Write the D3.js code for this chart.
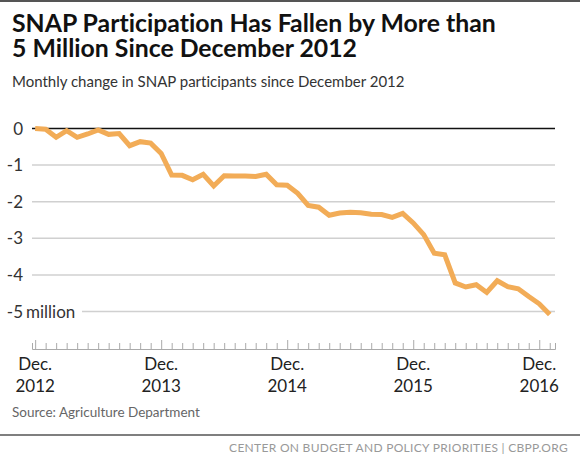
<!DOCTYPE html>
<html><head><meta charset="utf-8">
<script src="https://cdn.jsdelivr.net/npm/d3@7"></script>
<style>
body{margin:0;background:#fff;}
svg{display:block;}
text{font-variant-ligatures:none;font-feature-settings:"liga" 0;}
</style></head>
<body><div id="chart"></div>
<script>
const titleLines = ["SNAP Participation Has Fallen by More than", "5 Million Since December 2012"];
const subtitle = "Monthly change in SNAP participants since December 2012";
const source = "Source: Agriculture Department";
const footer = "CENTER ON BUDGET AND POLICY PRIORITIES | CBPP.ORG";
// months since December 2012 (index 0 = Dec 2012, 49 = Jan 2017)
const values = [0, -0.02, -0.24, -0.06, -0.24, -0.15, -0.04, -0.16, -0.14, -0.47, -0.36, -0.40,
  -0.68, -1.27, -1.28, -1.40, -1.25, -1.57, -1.29, -1.30, -1.30, -1.31, -1.25, -1.54,
  -1.55, -1.77, -2.10, -2.15, -2.37, -2.31, -2.29, -2.30, -2.34, -2.35, -2.43, -2.32,
  -2.58, -2.90, -3.41, -3.45, -4.22, -4.33, -4.27, -4.48, -4.16, -4.32, -4.38, -4.59,
  -4.79, -5.08];
const yTicks = [0, -1, -2, -3, -4, -5];
const xMajor = [0, 12, 24, 36, 48];
const xMajorLabels = [["Dec.", "2012"], ["Dec.", "2013"], ["Dec.", "2014"], ["Dec.", "2015"], ["Dec.", "2016"]];

const W = 580, H = 462;
const svg = d3.select("#chart").append("svg").attr("width", W).attr("height", H);
svg.append("rect").attr("width", W).attr("height", H).attr("fill", "#fff");
svg.append("rect").attr("x", 0).attr("y", 0).attr("width", W).attr("height", 2).attr("fill", "#555");

const x = d3.scaleLinear().domain([-0.3, 49.5]).range([32, 555]);
const y = d3.scaleLinear().domain([-5, 0]).range([311.5, 128.5]);

// title
const t = svg.append("text").attr("font-family", "Lato, 'Open Sans', sans-serif")
  .attr("font-weight", 700).attr("font-size", 24.8).attr("fill", "#111");
titleLines.forEach((l, i) => t.append("tspan").attr("x", 12).attr("y", 32 + i * 25).text(l));
svg.append("text").attr("x", 12).attr("y", 87).attr("font-family", "Lato, sans-serif")
  .attr("font-size", 15).attr("fill", "#333").text(subtitle);

// gridlines
const grid = svg.append("g");
yTicks.forEach(v => {
  grid.append("line").attr("x1", v === -5 ? 82 : x.range()[0]).attr("x2", x.range()[1])
    .attr("y1", y(v)).attr("y2", y(v))
    .attr("stroke", v === 0 ? "#111" : "#d0d0d0").attr("stroke-width", 1.5);
  grid.append("text").attr("x", 23).attr("y", y(v)).attr("dy", "0.36em")
    .attr("text-anchor", "end").attr("font-family", "Lato, sans-serif").attr("font-size", 17)
    .attr("fill", "#333").text(String(v));
  if (v === -5) grid.append("text").attr("x", 26).attr("y", y(v)).attr("dy", "0.36em")
    .attr("font-family", "Lato, sans-serif").attr("font-size", 17).attr("fill", "#333").text("million");
});

// x axis
const months = d3.range(0, values.length);
const xAxis = svg.append("g").attr("transform", "translate(0,349)")
  .call(d3.axisBottom(x).tickValues(months).tickSize(-6).tickFormat(""));
xAxis.select(".domain").attr("stroke", "#aaa").attr("stroke-width", 1);
xAxis.selectAll(".tick line").attr("stroke", "#aaa")
  .attr("y2", d => xMajor.includes(d) ? -9 : -6);
xMajor.forEach((m, i) => {
  const tx = svg.append("text").attr("text-anchor", "middle").attr("font-family", "Lato, sans-serif")
    .attr("font-size", 17).attr("fill", "#222");
  xMajorLabels[i].forEach((s, j) => tx.append("tspan").attr("x", x(m)).attr("y", 370 + j * 22).text(s));
});

// line
svg.append("path").datum(values)
  .attr("d", d3.line().x((d, i) => x(i)).y(d => y(d)))
  .attr("fill", "none").attr("stroke", "#F2AC57").attr("stroke-width", 5)
  .attr("stroke-linejoin", "miter");

svg.append("text").attr("x", 12).attr("y", 417).attr("font-family", "Lato, sans-serif")
  .attr("font-size", 13.5).attr("fill", "#666").text(source);
svg.append("line").attr("x1", 0).attr("x2", W).attr("y1", 435).attr("y2", 435)
  .attr("stroke", "#555").attr("stroke-width", 1.5);
svg.append("text").attr("x", 568).attr("y", 452).attr("text-anchor", "end")
  .attr("font-family", "Lato, sans-serif").attr("font-size", 12).attr("letter-spacing", 0.3)
  .attr("fill", "#999").text(footer);
</script></body></html>
